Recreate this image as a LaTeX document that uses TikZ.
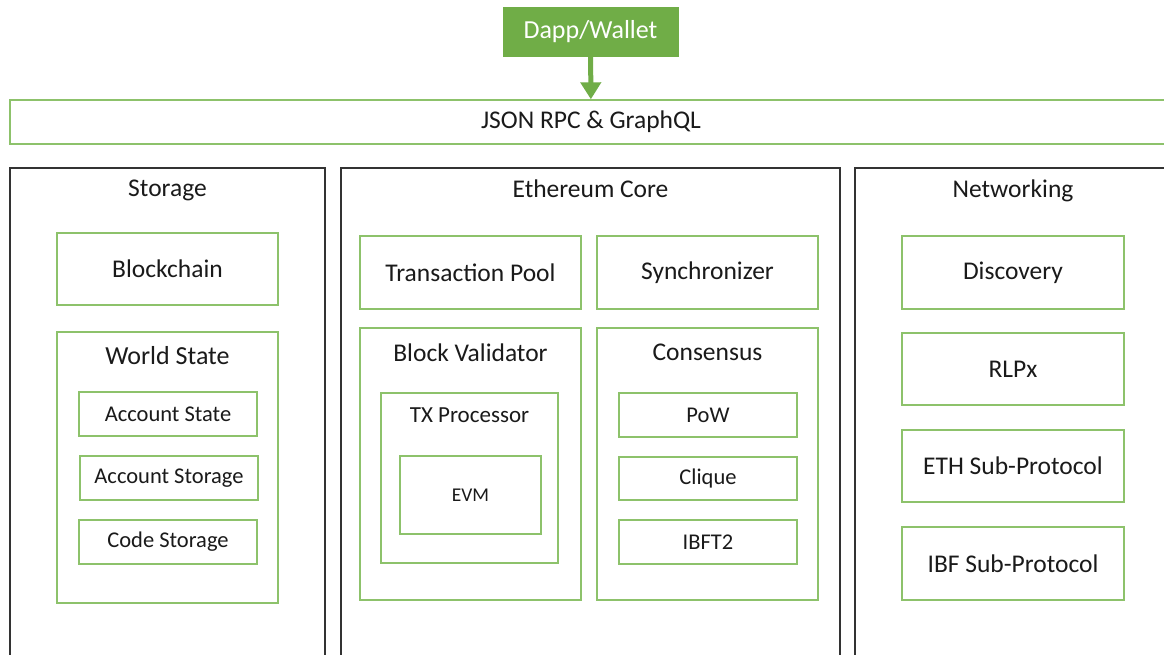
\documentclass[tikz,border=0pt]{standalone}
\usepackage{fontspec}
\setmainfont{Carlito}
\usetikzlibrary{positioning, arrows.meta}

\definecolor{dappgreen}{HTML}{70AD47}
\definecolor{linegreen}{HTML}{8DC26B}
\definecolor{framegray}{HTML}{333333}
\definecolor{textgray}{HTML}{1A1A1A}

\begin{document}
\begin{tikzpicture}[
        x=1pt, y=-1pt,
        box/.style={rectangle, draw=linegreen, line width=1.4pt, inner sep=0pt, text=textgray, font=\fontsize{25.5}{30}\selectfont},
        smallbox/.style={box, minimum width=178pt, minimum height=44pt, font=\fontsize{22.5}{27}\selectfont},
        bigbox/.style={box, minimum width=221pt, minimum height=73pt},
        group/.style={rectangle, draw=framegray, line width=1.5pt, inner sep=0pt},
        title/.style={inner sep=0pt, anchor=north, text=textgray, font=\fontsize{25.5}{30}\selectfont},
        dapp/.style={rectangle, draw=dappgreen, fill=dappgreen, line width=1pt, text=white, minimum width=175pt, minimum height=49pt, font=\fontsize{26}{31}\selectfont},
        arrow/.style={draw=dappgreen, line width=5pt, -{Triangle[width=20pt, length=17pt]}},
    ]
        \clip (0,0) rectangle (1164,654);
        \fill[white] (0,0) rectangle (1164,654);

        % Top - client and API
        \node (dapp) [dapp] at (590.5,31.5) {Dapp/Wallet};
        \node (rpc) [box, minimum width=1162pt, minimum height=44pt] at (591,122) {JSON RPC \& GraphQL};
        \draw [arrow] (dapp) -- (rpc);

        % Three columns
        \node (storage) [group, minimum width=315pt, minimum height=512pt] at (167.5,424) {};
        \node (core) [group, minimum width=499pt, minimum height=512pt] at (590.5,424) {};
        \node (net) [group, minimum width=330pt, minimum height=512pt] at (1020,424) {};
        \node (storagetitle) [title, below=12pt of storage.north] {Storage};
        \node (coretitle) [title, below=12pt of core.north] {Ethereum Core};
        \node (nettitle) [title, below=12pt of net.north, xshift=-7pt] {Networking};

        % Storage
        \node (blockchain) [bigbox, minimum height=72pt] at (167.5,269) {Blockchain};
        \node (world) [box, minimum width=221pt, minimum height=271pt] at (167.5,467.5) {};
        \node (worldtitle) [title, font=\fontsize{26}{31}\selectfont, below=15pt of world.north] {World State};
        \node (accstate) [smallbox] at (168,414) {Account State};
        \node (accstorage) [smallbox] at (169,478) {Account Storage};
        \node (codestorage) [smallbox] at (168,542) {Code Storage};

        % Ethereum Core
        \node (txpool) [bigbox] at (470.5,272.5) {Transaction Pool};
        \node (sync) [bigbox] at (707.5,272.5) {Synchronizer};
        \node (validator) [box, minimum width=221pt, minimum height=272pt] at (470.5,464) {};
        \node (validatortitle) [title, below=16pt of validator.north] {Block Validator};
        \node (txproc) [box, minimum width=177pt, minimum height=170pt] at (469.5,478) {};
        \node (txproctitle) [title, font=\fontsize{23}{27}\selectfont, below=15pt of txproc.north] {TX Processor};
        \node (evm) [box, minimum width=141pt, minimum height=78pt, font=\fontsize{19.5}{23}\selectfont] at (470.5,495) {EVM};
        \node (consensus) [box, minimum width=221pt, minimum height=272pt] at (707.5,464) {};
        \node (consensustitle) [title, below=16pt of consensus.north] {Consensus};
        \node (pow) [smallbox] at (708,415) {PoW};
        \node (clique) [smallbox, minimum height=43pt] at (708,478.5) {Clique};
        \node (ibft) [smallbox] at (708,542) {IBFT2};

        % Networking
        \node (discovery) [bigbox, minimum width=222pt] at (1013,272.5) {Discovery};
        \node (rlpx) [bigbox, minimum width=222pt, minimum height=72pt] at (1013,369) {RLPx};
        \node (ethsub) [bigbox, minimum width=222pt, minimum height=72pt] at (1013,466) {ETH Sub-Protocol};
        \node (ibfsub) [bigbox, minimum width=222pt] at (1013,563.5) {IBF Sub-Protocol};
    \end{tikzpicture}
\end{document}
